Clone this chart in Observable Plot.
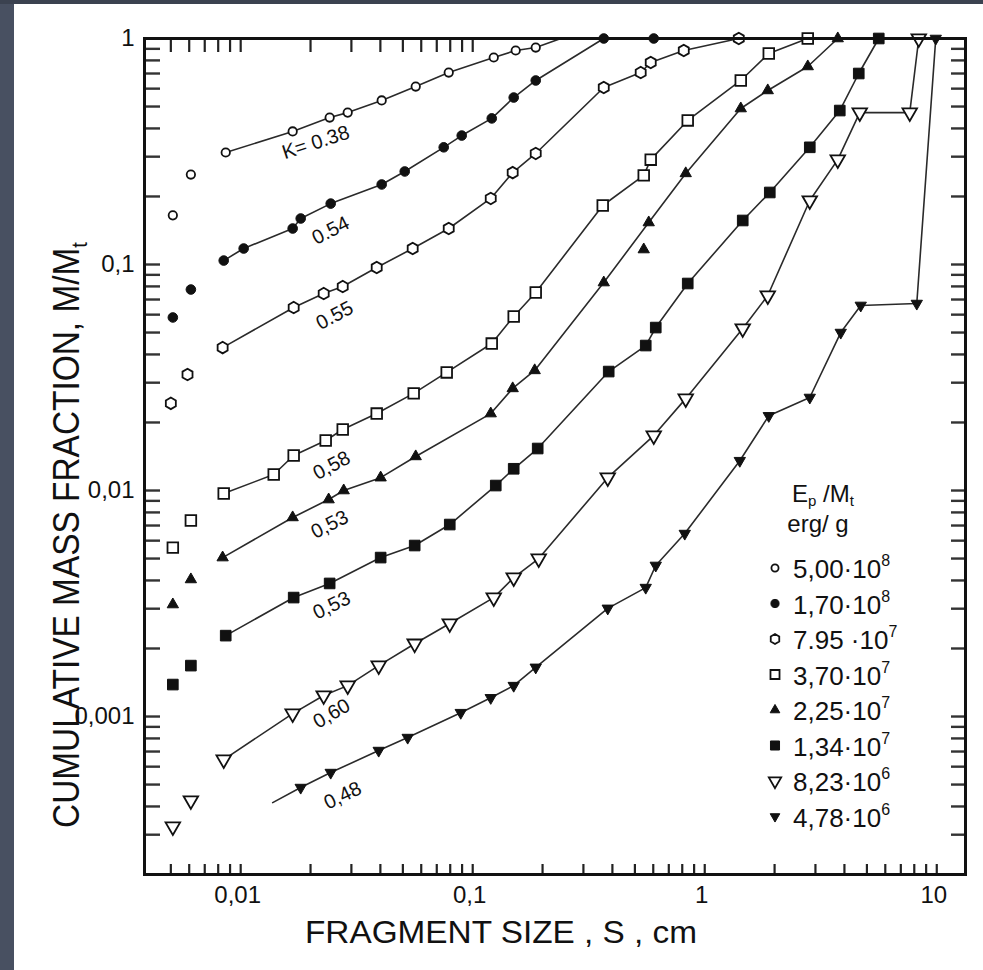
<!DOCTYPE html>
<html>
<head>
<meta charset="utf-8">
<script src="https://cdn.jsdelivr.net/npm/d3@7"></script>
<script src="https://cdn.jsdelivr.net/npm/@observablehq/plot@0.6"></script>
<style>
  html, body { margin: 0; padding: 0; background: #fff; }
  #wrap { position: relative; width: 983px; height: 970px; overflow: hidden; background: #fff; }
  #chart { position: absolute; left: 0; top: 0; }
  #edgeLeft { position: absolute; left: 0; top: 0; width: 14px; height: 970px; background: #485061; }
  #edgeTop { position: absolute; left: 0; top: 0; width: 983px; height: 4px; background: #3b4250; }
</style>
</head>
<body>
<div id="wrap"><div id="chart"></div><div id="edgeLeft"></div><div id="edgeTop"></div></div>
<script>
// Cumulative mass fraction M/Mt versus fragment size S (cm) for eight impact energy densities Ep/Mt.
// Each curve is [S, M/Mt]; "loose" points are plotted without a connecting line.

const curve500e8 = [[0.00862,0.313],[0.01675,0.388],[0.02418,0.447],[0.02892,0.470],[0.04052,0.532],[0.0568,0.613],[0.07882,0.707],[0.1232,0.824],[0.1532,0.885],[0.1869,0.912]];
const curve170e8 = [[0.00845,0.1041],[0.0103,0.1177],[0.01675,0.1443],[0.01814,0.1598],[0.02443,0.186],[0.04052,0.226],[0.05093,0.258],[0.075,0.330],[0.08966,0.372],[0.1208,0.443],[0.1502,0.548],[0.1869,0.652],[0.3671,1],[0.6028,1]];
const curve795e7 = [[0.00836,0.0429],[0.01692,0.0645],[0.02279,0.0744],[0.02753,0.0799],[0.03857,0.0970],[0.05512,0.1177],[0.07882,0.1443],[0.1196,0.196],[0.1487,0.255],[0.1869,0.310],[0.3671,0.607],[0.5297,0.707],[0.5851,0.783],[0.8121,0.885],[1.402,1]];
const curve370e7 = [[0.00845,0.0097],[0.01388,0.01177],[0.01692,0.01429],[0.02325,0.01664],[0.02753,0.01862],[0.03857,0.0219],[0.05567,0.0269],[0.07725,0.0333],[0.1208,0.0447],[0.1502,0.0589],[0.1869,0.0752],[0.3634,0.1824],[0.5459,0.248],[0.5851,0.291],[0.8447,0.434],[1.43,0.652],[1.888,0.858],[2.78,1]];
const curve225e7 = [[0.00836,0.00505],[0.01675,0.0076],[0.02394,0.00912],[0.0278,0.0100],[0.04011,0.0114],[0.0568,0.01415],[0.1196,0.0219],[0.1487,0.0283],[0.185,0.034],[0.3671,0.0832],[0.5736,0.1534],[0.8281,0.253],[1.43,0.490],[1.869,0.589],[2.78,0.752],[3.744,1]];
const curve134e7 = [[0.00862,0.00228],[0.01692,0.00336],[0.02418,0.00388],[0.04011,0.00505],[0.05623,0.00571],[0.07963,0.00707],[0.1257,0.01052],[0.1502,0.01248],[0.1906,0.01534],[0.3856,0.0336],[0.5568,0.0438],[0.615,0.0526],[0.8447,0.0824],[1.458,0.1566],[1.907,0.2083],[2.836,0.330],[3.819,0.480],[4.611,0.700],[5.623,1]];
const curve823e6 = [[0.00845,0.000645],[0.01675,0.00103],[0.02279,0.001239],[0.02892,0.00137],[0.03934,0.00168],[0.05623,0.0021],[0.07963,0.00258],[0.1232,0.00336],[0.1502,0.00412],[0.1925,0.0050],[0.3819,0.0114],[0.6028,0.0175],[0.8281,0.0255],[1.458,0.0521],[1.869,0.0729],[2.836,0.192],[3.744,0.291],[4.657,0.470],[7.648,0.470],[8.365,1]];
const curve478e6 = [[0.01814,0.000485],[0.02443,0.000565],[0.03934,0.000707],[0.05245,0.000807],[0.0888,0.00104],[0.1196,0.00121],[0.1502,0.00137],[0.1869,0.00165],[0.3819,0.00301],[0.5568,0.00372],[0.615,0.00466],[0.8201,0.00645],[1.416,0.01355],[1.888,0.0214],[2.836,0.0258],[3.856,0.0500],[4.703,0.0659],[8.201,0.0672],[9.90,1]];

// line vertices without a symbol (where a curve runs on past its last/first point)
const bend500e8 = [[0.24,1]];
const bend478e6 = [[0.01374,0.000416]];

// unconnected points
const loose500e8 = [[0.0051,0.165],[0.0061,0.250]];
const loose170e8 = [[0.0051,0.0583],[0.0061,0.0775]];
const loose795e7 = [[0.0050,0.0243],[0.0059,0.0326]];
const loose370e7 = [[0.0051,0.00559],[0.0061,0.00737]];
const loose225e7 = [[0.0051,0.00313],[0.0061,0.00404],[0.5459,0.1165]];
const loose134e7 = [[0.0051,0.001385],[0.0061,0.00168]];
const loose823e6 = [[0.0051,0.000326],[0.0061,0.000425]];
const loose478e6 = [];

// legend: Ep/Mt in erg/g
const energyMantissa = ["5,00", "1,70", "7.95 ", "3,70", "2,25", "1,34", "8,23", "4,78"];
const energyExponent = ["8", "8", "7", "7", "7", "7", "6", "6"];

// slope K of each curve, written along the curve
const slopeK = ["K= 0.38", "0.54", "0.55", "0,58", "0,53", "0,53", "0,60", "0,48"];
const slopeLabelAt = [
  {x: 0.02106, y: 0.3466, angle: -18},
  {x: 0.02443, y: 0.1414, angle: -27},
  {x: 0.02543, y: 0.0595, angle: -28},
  {x: 0.02467, y: 0.0129, angle: -28},
  {x: 0.02418, y: 0.00707, angle: -27},
  {x: 0.02467, y: 0.0031, angle: -26},
  {x: 0.02467, y: 0.00103, angle: -30},
  {x: 0.02753, y: 0.000447, angle: -26}
];

// axis tick labels
const xTickLabels = [0.01, 0.1, 1, 10];
const yTickLabels = [0.001, 0.01, 0.1, 1];
const xTitle = "FRAGMENT SIZE , S , cm";
const yTitle = "CUMULATIVE MASS FRACTION, M/M";
const yTitleSub = "t";

// ---------------------------------------------------------------------------

const curves = [curve500e8, curve170e8, curve795e7, curve370e7, curve225e7, curve134e7, curve823e6, curve478e6];
const bends = [bend500e8, [], [], [], [], [], [], bend478e6];
const loose = [loose500e8, loose170e8, loose795e7, loose370e7, loose225e7, loose134e7, loose823e6, loose478e6];

const ink = "#111";
const sqrt3 = Math.sqrt(3);
const hexagon = {
  draw(ctx, size) {
    const rx = Math.sqrt(size / Math.PI), ry = rx * 2 / sqrt3, hy = ry / 2;
    ctx.moveTo(0, ry); ctx.lineTo(rx, hy); ctx.lineTo(rx, -hy);
    ctx.lineTo(0, -ry); ctx.lineTo(-rx, -hy); ctx.lineTo(-rx, hy); ctx.closePath();
  }
};
const triangleDown = {
  draw(ctx, size) {
    const y = -Math.sqrt(size / (sqrt3 * 3));
    ctx.moveTo(0, -y * 2); ctx.lineTo(-sqrt3 * y, y); ctx.lineTo(sqrt3 * y, y); ctx.closePath();
  }
};
const triangleUp = {
  draw(ctx, size) {
    const y = -Math.sqrt(size / (sqrt3 * 3));
    ctx.moveTo(0, y * 2); ctx.lineTo(-sqrt3 * y, -y); ctx.lineTo(sqrt3 * y, -y); ctx.closePath();
  }
};
const circle = {draw(ctx, size) { const r = Math.sqrt(size / Math.PI); ctx.moveTo(r, 0); ctx.arc(0, 0, r, 0, 2 * Math.PI); }};
const square = {draw(ctx, size) { const w = Math.sqrt(size), x = -w / 2; ctx.rect(x, x, w, w); }};

const markerStyle = [
  {symbol: circle, r: 4.2, fill: "white", stroke: ink, strokeWidth: 1.8},
  {symbol: circle, r: 4.8, fill: ink, stroke: ink, strokeWidth: 1},
  {symbol: hexagon, r: 5, fill: "white", stroke: ink, strokeWidth: 1.8},
  {symbol: square, r: 6, fill: "white", stroke: ink, strokeWidth: 1.8},
  {symbol: triangleUp, r: 4.2, fill: ink, stroke: ink, strokeWidth: 1},
  {symbol: square, r: 6, fill: ink, stroke: ink, strokeWidth: 1},
  {symbol: triangleDown, r: 5.4, fill: "white", stroke: ink, strokeWidth: 1.8},
  {symbol: triangleDown, r: 4.2, fill: ink, stroke: ink, strokeWidth: 1}
];

const lineRows = curves.flatMap((c, i) =>
  [...c, ...bends[i]].sort((a, b) => a[0] - b[0]).map(([x, y]) => ({x, y, series: i}))
);

// minor log ticks 1..9 × 10^e within [lo, hi]
const decadeTicks = (lo, hi) =>
  d3.range(Math.floor(Math.log10(lo)), Math.ceil(Math.log10(hi)) + 1)
    .flatMap(e => d3.range(1, 10).map(m => +(m * 10 ** e).toPrecision(6)))
    .filter(v => v >= lo * 0.999 && v <= hi * 1.001);

const commaFormat = d => String(d).replace(".", ",");

const slopeRows = slopeLabelAt.map((p, i) => ({...p, k: slopeK[i]}));

const plot = Plot.plot({
  width: 983,
  height: 970,
  marginLeft: 144,
  marginRight: 18,
  marginTop: 38,
  marginBottom: 96,
  style: {background: "transparent", fontFamily: "'Liberation Sans', Arial, sans-serif", color: ink},
  x: {type: "log", domain: [0.00385, 13.3], axis: null},
  y: {type: "log", domain: [0.0002, 1], axis: null},
  marks: [
    Plot.line(lineRows, {x: "x", y: "y", z: "series", stroke: "#2a2a2a", strokeWidth: 1.6}),
    ...curves.map((c, i) =>
      Plot.dot([...c, ...loose[i]], {x: d => d[0], y: d => d[1], ...markerStyle[i]})
    ),
    Plot.text(slopeRows, {
      x: "x", y: "y", text: "k", rotate: "angle",
      fontSize: 20, fill: ink, textAnchor: "middle", lineAnchor: "middle"
    }),
    // inward tick marks on all four sides
    Plot.axisX(decadeTicks(0.005, 10), {anchor: "bottom", tickSize: -10, fill: "none", stroke: "#222", strokeWidth: 2.2}),
    Plot.axisX(decadeTicks(0.005, 0.1), {anchor: "top", tickSize: -13, fill: "none", stroke: "#222", strokeWidth: 2.2}),
    Plot.axisY(decadeTicks(0.0003, 0.9), {anchor: "left", tickSize: -16, fill: "none", stroke: "#333", strokeWidth: 2.4}),
    Plot.axisY(decadeTicks(0.0003, 0.9), {anchor: "right", tickSize: -15, fill: "none", stroke: "#333", strokeWidth: 2.4}),
    // tick labels
    Plot.axisX(xTickLabels, {anchor: "bottom", tickSize: 0, tickPadding: 11, tickFormat: commaFormat, fontSize: 24, label: null, dx: -3}),
    Plot.axisY(yTickLabels, {anchor: "left", tickSize: 0, tickPadding: 10, tickFormat: commaFormat, fontSize: 24, label: null}),
    Plot.frame({stroke: ink, strokeWidth: 3})
  ]
});

document.getElementById("chart").appendChild(plot);

// titles and legend
const svg = d3.select(plot);
const font = "'Liberation Sans', Arial, sans-serif";

svg.append("text")
  .attr("x", 501).attr("y", 943)
  .attr("text-anchor", "middle")
  .attr("font-family", font).attr("font-size", 32).attr("fill", ink)
  .attr("textLength", 392).attr("lengthAdjust", "spacingAndGlyphs")
  .text(xTitle);

const yt = svg.append("text")
  .attr("transform", "translate(79,535) rotate(-90)")
  .attr("text-anchor", "middle")
  .attr("font-family", font).attr("font-size", 36).attr("fill", ink)
  .attr("textLength", 586).attr("lengthAdjust", "spacingAndGlyphs");
yt.append("tspan").text(yTitle);
yt.append("tspan").attr("font-size", 22).attr("dy", 8).text(yTitleSub);

const head = svg.append("text")
  .attr("x", 823).attr("y", 502).attr("text-anchor", "middle")
  .attr("font-family", font).attr("font-size", 24).attr("fill", ink);
head.append("tspan").text("E");
head.append("tspan").attr("font-size", 15).attr("dy", 4).text("p");
head.append("tspan").attr("dy", -4).text(" /M");
head.append("tspan").attr("font-size", 15).attr("dy", 4).text("t");

svg.append("text")
  .attr("x", 818).attr("y", 532).attr("text-anchor", "middle")
  .attr("font-family", font).attr("font-size", 24).attr("fill", ink)
  .text("erg/ g");

const legend = svg.append("g").attr("text-anchor", "start");
energyMantissa.forEach((m, i) => {
  const base = 578 + 35.5 * i;
  const st = markerStyle[i];
  legend.append("path")
    .attr("transform", `translate(775,${base - 10})`)
    .attr("d", d3.symbol(st.symbol, Math.PI * (st.r * 0.85) ** 2)())
    .attr("fill", st.fill).attr("stroke", st.stroke).attr("stroke-width", st.strokeWidth);
  const t = legend.append("text")
    .attr("x", 793).attr("y", base).attr("text-anchor", "start")
    .attr("font-family", font).attr("font-size", 26).attr("fill", ink);
  t.append("tspan").text(m + "·10");
  t.append("tspan").attr("font-size", 16).attr("dy", -12).text(energyExponent[i]);
});
</script>
</body>
</html>
